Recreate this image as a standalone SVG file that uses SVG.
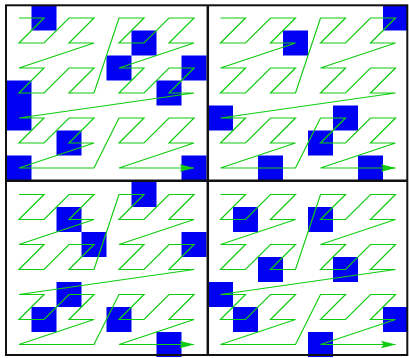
<svg xmlns="http://www.w3.org/2000/svg" xmlns:xlink="http://www.w3.org/1999/xlink" width="409" height="358" viewBox="0 0 409 358">
<style>
.sq{fill:#0000f2;}
.curve{fill:none;stroke:#10cc10;stroke-width:1.2;stroke-linejoin:miter;}
.frame{fill:none;stroke:#111;}
</style>
<defs>
<marker id="arrow" markerUnits="userSpaceOnUse" markerWidth="20" markerHeight="12" viewBox="-16 -6 18 12" refX="0" refY="0" orient="auto" overflow="visible">
<path d="M0.5,0 L-14.5,-3.8 L-12,0 L-14.5,3.8 Z" fill="#10cc10"/>
</marker>
<path id="zc" class="curve" marker-end="url(#arrow)" d="M12.5,12.5 L37.5,12.5 L12.5,37.5 L37.5,37.5 L62.5,12.5 L87.5,12.5 L62.5,37.5 L87.5,37.5 L12.5,62.5 L37.5,62.5 L12.5,87.5 L37.5,87.5 L62.5,62.5 L87.5,62.5 L62.5,87.5 L87.5,87.5 L112.5,12.5 L137.5,12.5 L112.5,37.5 L137.5,37.5 L162.5,12.5 L187.5,12.5 L162.5,37.5 L187.5,37.5 L112.5,62.5 L137.5,62.5 L112.5,87.5 L137.5,87.5 L162.5,62.5 L187.5,62.5 L162.5,87.5 L187.5,87.5 L12.5,112.5 L37.5,112.5 L12.5,137.5 L37.5,137.5 L62.5,112.5 L87.5,112.5 L62.5,137.5 L87.5,137.5 L12.5,162.5 L37.5,162.5 L62.5,162.5 L87.5,162.5 L112.5,112.5 L137.5,112.5 L112.5,137.5 L137.5,137.5 L162.5,112.5 L187.5,112.5 L162.5,137.5 L187.5,137.5 L112.5,162.5 L137.5,162.5 L162.5,162.5 L187.5,162.5"/>
</defs>
<rect width="409" height="358" fill="#fff"/>
<g id="panel1" transform="translate(6.5,5.5)">
<rect class="sq" x="25" y="0" width="25" height="25"/>
<rect class="sq" x="125" y="25" width="25" height="25"/>
<rect class="sq" x="100" y="50" width="25" height="25"/>
<rect class="sq" x="175" y="50" width="25" height="25"/>
<rect class="sq" x="0" y="75" width="25" height="50"/>
<rect class="sq" x="150" y="75" width="25" height="25"/>
<rect class="sq" x="50" y="125" width="25" height="25"/>
<rect class="sq" x="0" y="150" width="25" height="25"/>
<rect class="sq" x="175" y="150" width="25" height="25"/>
</g>
<g id="panel2" transform="translate(208,5.5)">
<rect class="sq" x="175" y="0" width="25" height="25"/>
<rect class="sq" x="75" y="25" width="25" height="25"/>
<rect class="sq" x="0" y="100" width="25" height="25"/>
<rect class="sq" x="125" y="100" width="25" height="25"/>
<rect class="sq" x="100" y="125" width="25" height="25"/>
<rect class="sq" x="50" y="150" width="25" height="25"/>
<rect class="sq" x="150" y="150" width="25" height="25"/>
</g>
<g id="panel3" transform="translate(6.5,182)">
<rect class="sq" x="125" y="0" width="25" height="25"/>
<rect class="sq" x="50" y="25" width="25" height="25"/>
<rect class="sq" x="75" y="50" width="25" height="25"/>
<rect class="sq" x="175" y="50" width="25" height="25"/>
<rect class="sq" x="50" y="100" width="25" height="25"/>
<rect class="sq" x="25" y="125" width="25" height="25"/>
<rect class="sq" x="100" y="125" width="25" height="25"/>
<rect class="sq" x="150" y="150" width="25" height="25"/>
</g>
<g id="panel4" transform="translate(208,182)">
<rect class="sq" x="25" y="25" width="25" height="25"/>
<rect class="sq" x="100" y="25" width="25" height="25"/>
<rect class="sq" x="50" y="75" width="25" height="25"/>
<rect class="sq" x="125" y="75" width="25" height="25"/>
<rect class="sq" x="0" y="100" width="25" height="25"/>
<rect class="sq" x="25" y="125" width="25" height="25"/>
<rect class="sq" x="175" y="125" width="25" height="25"/>
<rect class="sq" x="100" y="150" width="25" height="25"/>
</g>
<g id="connectors">
<use xlink:href="#zc" href="#zc" transform="translate(6.5,5.5)"/>
<use xlink:href="#zc" href="#zc" transform="translate(208,5.5)"/>
<use xlink:href="#zc" href="#zc" transform="translate(6.5,182)"/>
<use xlink:href="#zc" href="#zc" transform="translate(208,182)"/>
</g>
<g id="frame">
<rect class="frame" x="6" y="5.3" width="401.3" height="349.7" stroke-width="2"/>
<line class="frame" x1="207.8" y1="5" x2="207.8" y2="355" stroke-width="2.5"/>
<line class="frame" x1="6" y1="180.7" x2="407" y2="180.7" stroke-width="2.5"/>
</g>
</svg>
